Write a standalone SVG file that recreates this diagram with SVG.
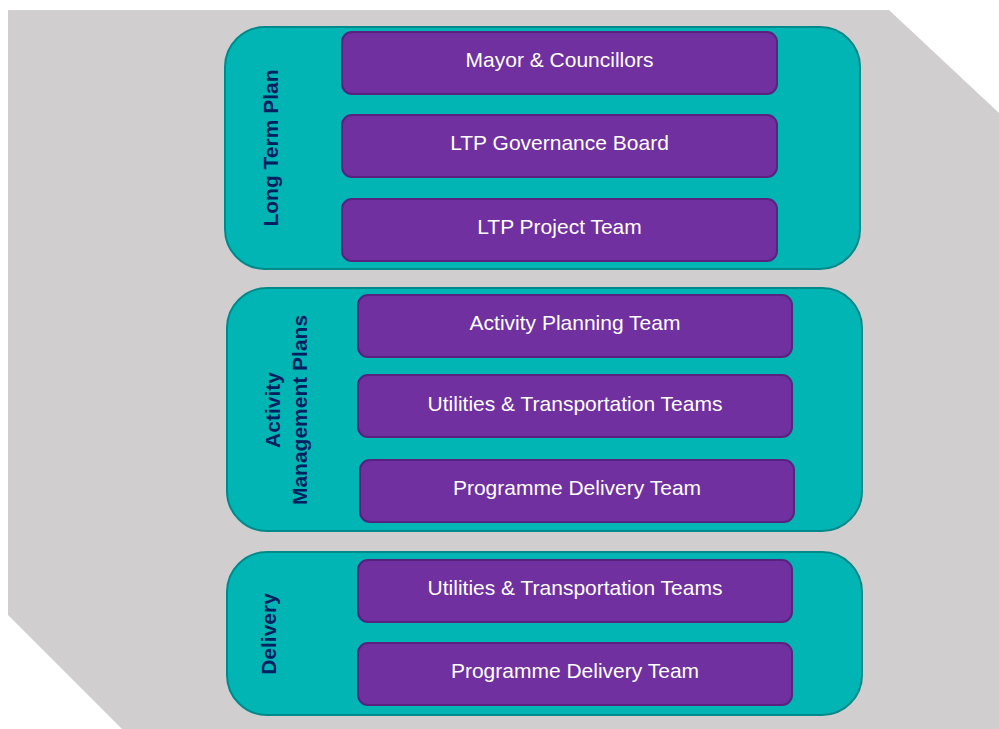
<svg xmlns="http://www.w3.org/2000/svg" width="999" height="729" viewBox="0 0 999 729">
  <style>
    .group { fill: #00b5b4; stroke: #00898a; stroke-width: 2; }
    .box { fill: #7030a0; stroke: #58237f; stroke-width: 2; }
    .lbl { font-family: "Liberation Sans", Arial, sans-serif; font-size: 21px; fill: #ffffff; text-anchor: middle; }
    .side { font-family: "Liberation Sans", Arial, sans-serif; font-size: 21px; font-weight: bold; fill: #002060; text-anchor: middle; }
  </style>
  <rect width="999" height="729" fill="#ffffff"/>
  <polygon points="8,10 889,10 999,113 999,729 122,729 8,615" fill="#d0cecf"/>

  <g id="long-term-plan">
    <rect class="group" x="225" y="27" width="635" height="242" rx="40"/>
    <text class="side" transform="translate(278,148) rotate(-90)">Long Term Plan</text>
  </g>
  <g id="mayor-councillors">
    <rect class="box" x="342" y="32" width="435" height="62" rx="10"/>
    <text class="lbl" x="559.5" y="67">Mayor &amp; Councillors</text>
  </g>
  <g id="ltp-governance-board">
    <rect class="box" x="342" y="115" width="435" height="62" rx="10"/>
    <text class="lbl" x="559.5" y="150">LTP Governance Board</text>
  </g>
  <g id="ltp-project-team">
    <rect class="box" x="342" y="199" width="435" height="62" rx="10"/>
    <text class="lbl" x="559.5" y="234">LTP Project Team</text>
  </g>

  <g id="activity-management-plans">
    <rect class="group" x="227" y="288" width="635" height="243" rx="40"/>
    <text class="side" transform="translate(279.5,410) rotate(-90)">Activity</text>
    <text class="side" transform="translate(306.5,410) rotate(-90)">Management Plans</text>
  </g>
  <g id="activity-planning-team">
    <rect class="box" x="358" y="295" width="434" height="62" rx="10"/>
    <text class="lbl" x="575" y="330">Activity Planning Team</text>
  </g>
  <g id="amp-utilities-transportation">
    <rect class="box" x="358" y="375" width="434" height="62" rx="10"/>
    <text class="lbl" x="575" y="411">Utilities &amp; Transportation Teams</text>
  </g>
  <g id="amp-programme-delivery">
    <rect class="box" x="360" y="460" width="434" height="62" rx="10"/>
    <text class="lbl" x="577" y="495">Programme Delivery Team</text>
  </g>

  <g id="delivery">
    <rect class="group" x="227" y="552" width="635" height="163" rx="40"/>
    <text class="side" transform="translate(275.5,634) rotate(-90)">Delivery</text>
  </g>
  <g id="delivery-utilities-transportation">
    <rect class="box" x="358" y="560" width="434" height="62" rx="10"/>
    <text class="lbl" x="575" y="595">Utilities &amp; Transportation Teams</text>
  </g>
  <g id="delivery-programme-delivery">
    <rect class="box" x="358" y="643" width="434" height="62" rx="10"/>
    <text class="lbl" x="575" y="678">Programme Delivery Team</text>
  </g>

  <g id="connectors"></g>
</svg>
